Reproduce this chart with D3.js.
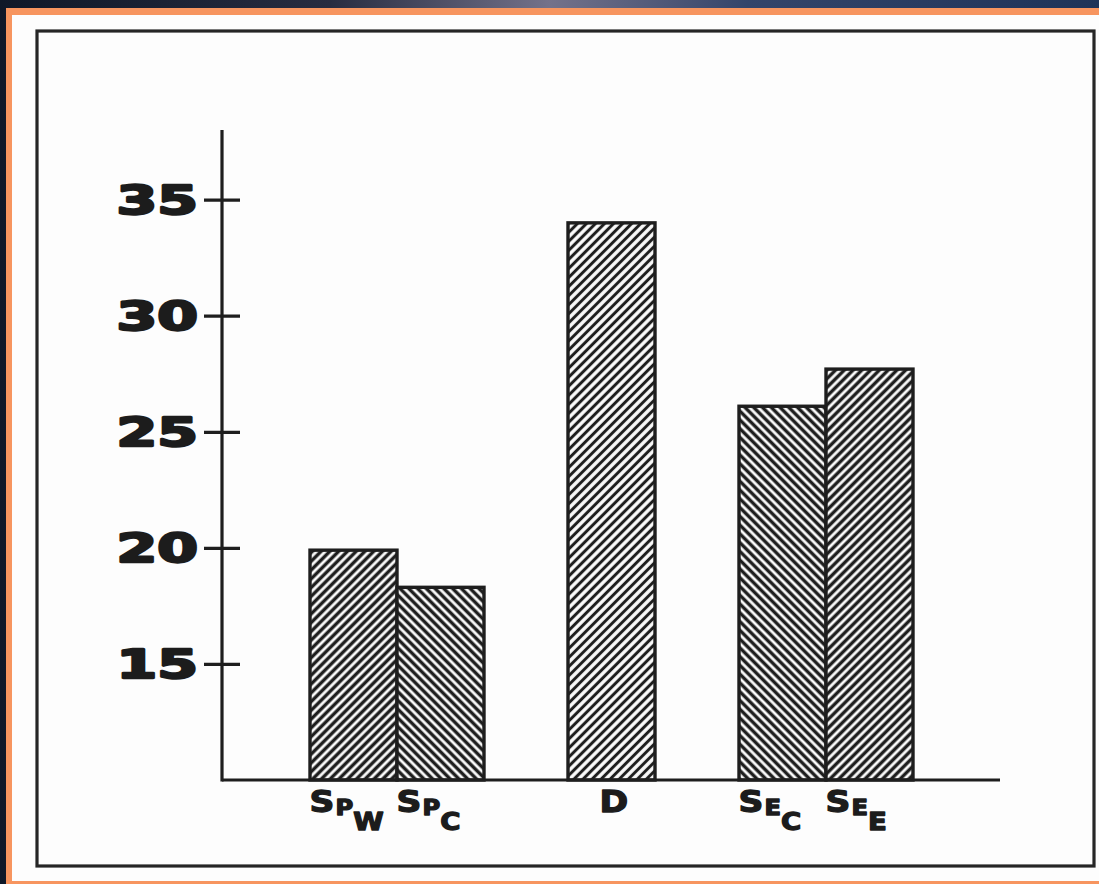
<!DOCTYPE html>
<html>
<head>
<meta charset="utf-8">
<script src="https://cdn.jsdelivr.net/npm/d3@7"></script>
<style>
  html, body { margin: 0; padding: 0; background: #14203a; }
  svg { display: block; }
</style>
</head>
<body>
<svg id="chart" width="1099" height="884"></svg>
<script>
// ---- data ----
const categories = ["SPW", "SPC", "D", "SEC", "SEE"];
const groups     = ["SP", "SP", "D", "SE", "SE"];
const values     = [19.9, 18.3, 34.0, 26.1, 27.7];
const hatchDir   = ["up", "down", "up", "down", "up"];
const labelMain  = ["S", "S", "D", "S", "S"];
const labelSub1  = ["P", "P", "", "E", "E"];
const labelSub2  = ["W", "C", "", "C", "E"];
const yTicks     = [15, 20, 25, 30, 35];
const groupOrder = ["SP", "D", "SE"];

const svg = d3.select("#chart");
const W = 1099, H = 884;
const defs = svg.append("defs");

// backdrop
const bg = defs.append("linearGradient").attr("id", "bg").attr("x1", "0").attr("x2", "1").attr("y1", "0").attr("y2", "0");
bg.append("stop").attr("offset", "0").attr("stop-color", "#0f1828");
bg.append("stop").attr("offset", "0.3").attr("stop-color", "#272c40");
bg.append("stop").attr("offset", "0.5").attr("stop-color", "#74728a");
bg.append("stop").attr("offset", "0.68").attr("stop-color", "#34456a");
bg.append("stop").attr("offset", "1").attr("stop-color", "#1e3358");
svg.append("rect").attr("width", W).attr("height", H).attr("fill", "url(#bg)");
svg.append("rect").attr("x", 6).attr("y", 8).attr("width", W - 6).attr("height", H - 8).attr("fill", "#f7955f");
svg.append("rect").attr("x", 12).attr("y", 15).attr("width", W - 12).attr("height", 866).attr("fill", "#fdfdfd");

// frame
svg.append("rect").attr("x", 37).attr("y", 31).attr("width", 1057).attr("height", 835)
  .attr("fill", "none").attr("stroke", "#262626").attr("stroke-width", 3.2);

// hatch patterns
function hatch(id, dir, sw, gap) {
  const p = defs.append("pattern").attr("id", id).attr("patternUnits", "userSpaceOnUse")
    .attr("width", gap).attr("height", gap)
    .attr("patternTransform", `rotate(${dir === "up" ? 45 : -45})`);
  p.append("rect").attr("width", gap).attr("height", gap).attr("fill", "#fbfbfb");
  p.append("line").attr("x1", gap / 2).attr("y1", 0).attr("x2", gap / 2).attr("y2", gap)
    .attr("stroke", "#1e1e1e").attr("stroke-width", sw);
}
hatch("h-up", "up", 3.4, 6.2);
hatch("h-down", "down", 3.4, 6.2);
hatch("h-upD", "up", 3.0, 6.4);

// scales
const y = d3.scaleLinear().domain([10, 38]).range([780, 130]);
const xg = d3.scalePoint().domain(groupOrder).range([397, 826]);
const barW = 87;
function barX(i) {
  const members = categories.filter((c, j) => groups[j] === groups[i]);
  const inner = d3.scaleBand().domain(members).range([-barW * members.length / 2, barW * members.length / 2]);
  return xg(groups[i]) + inner(categories[i]);
}

// bars
svg.append("g").selectAll("rect").data(values).join("rect")
  .attr("x", (d, i) => barX(i))
  .attr("y", d => y(d))
  .attr("width", barW)
  .attr("height", d => y(10) - y(d))
  .attr("fill", (d, i) => categories[i] === "D" ? "url(#h-upD)" : (hatchDir[i] === "up" ? "url(#h-up)" : "url(#h-down)"))
  .attr("stroke", "#1e1e1e").attr("stroke-width", 3.4);

// y axis
const axisX = 222;
const ya = svg.append("g").attr("transform", `translate(${axisX},0)`)
  .call(d3.axisLeft(y).tickValues(yTicks).tickSize(18).tickPadding(4).tickFormat(d3.format("d")));
ya.select(".domain").remove();
ya.selectAll(".tick line").attr("x1", 18).attr("stroke", "#1e1e1e").attr("stroke-width", 3.2);
ya.selectAll(".tick text")
  .attr("x", 0).attr("dy", "0.36em")
  .attr("transform", "translate(-24,0) scale(1.5,1)")
  .attr("fill", "#1c1c1c").attr("stroke", "#1c1c1c").attr("stroke-width", 2.4).attr("stroke-linejoin", "round")
  .style("font-family", "'DejaVu Sans', sans-serif").style("font-weight", "bold").style("font-size", "39px");
svg.append("line").attr("x1", axisX).attr("x2", axisX).attr("y1", y(38)).attr("y2", y(10) + 1.5)
  .attr("stroke", "#1e1e1e").attr("stroke-width", 3.2);

// x axis
svg.append("line").attr("x1", axisX).attr("x2", 1000).attr("y1", y(10)).attr("y2", y(10))
  .attr("stroke", "#1e1e1e").attr("stroke-width", 3.2);

// category labels
const lab = svg.append("g").selectAll("text").data(categories).join("text")
  .attr("transform", (d, i) => `translate(${barX(i) + barW / 2 - (labelSub1[i] ? 44 : 12)},812) scale(1.15,1)`)
  .attr("fill", "#1c1c1c").attr("stroke", "#1c1c1c").attr("stroke-width", 1.3).attr("stroke-linejoin", "round")
  .style("font-family", "'DejaVu Sans', sans-serif").style("font-weight", "bold");
lab.append("tspan").text((d, i) => labelMain[i]).style("font-size", "30px");
lab.append("tspan").text((d, i) => labelSub1[i]).attr("dy", 3).attr("dx", 1).style("font-size", "21px");
lab.append("tspan").text((d, i) => labelSub2[i]).attr("dy", 15).style("font-size", "24px");
</script>
</body>
</html>
